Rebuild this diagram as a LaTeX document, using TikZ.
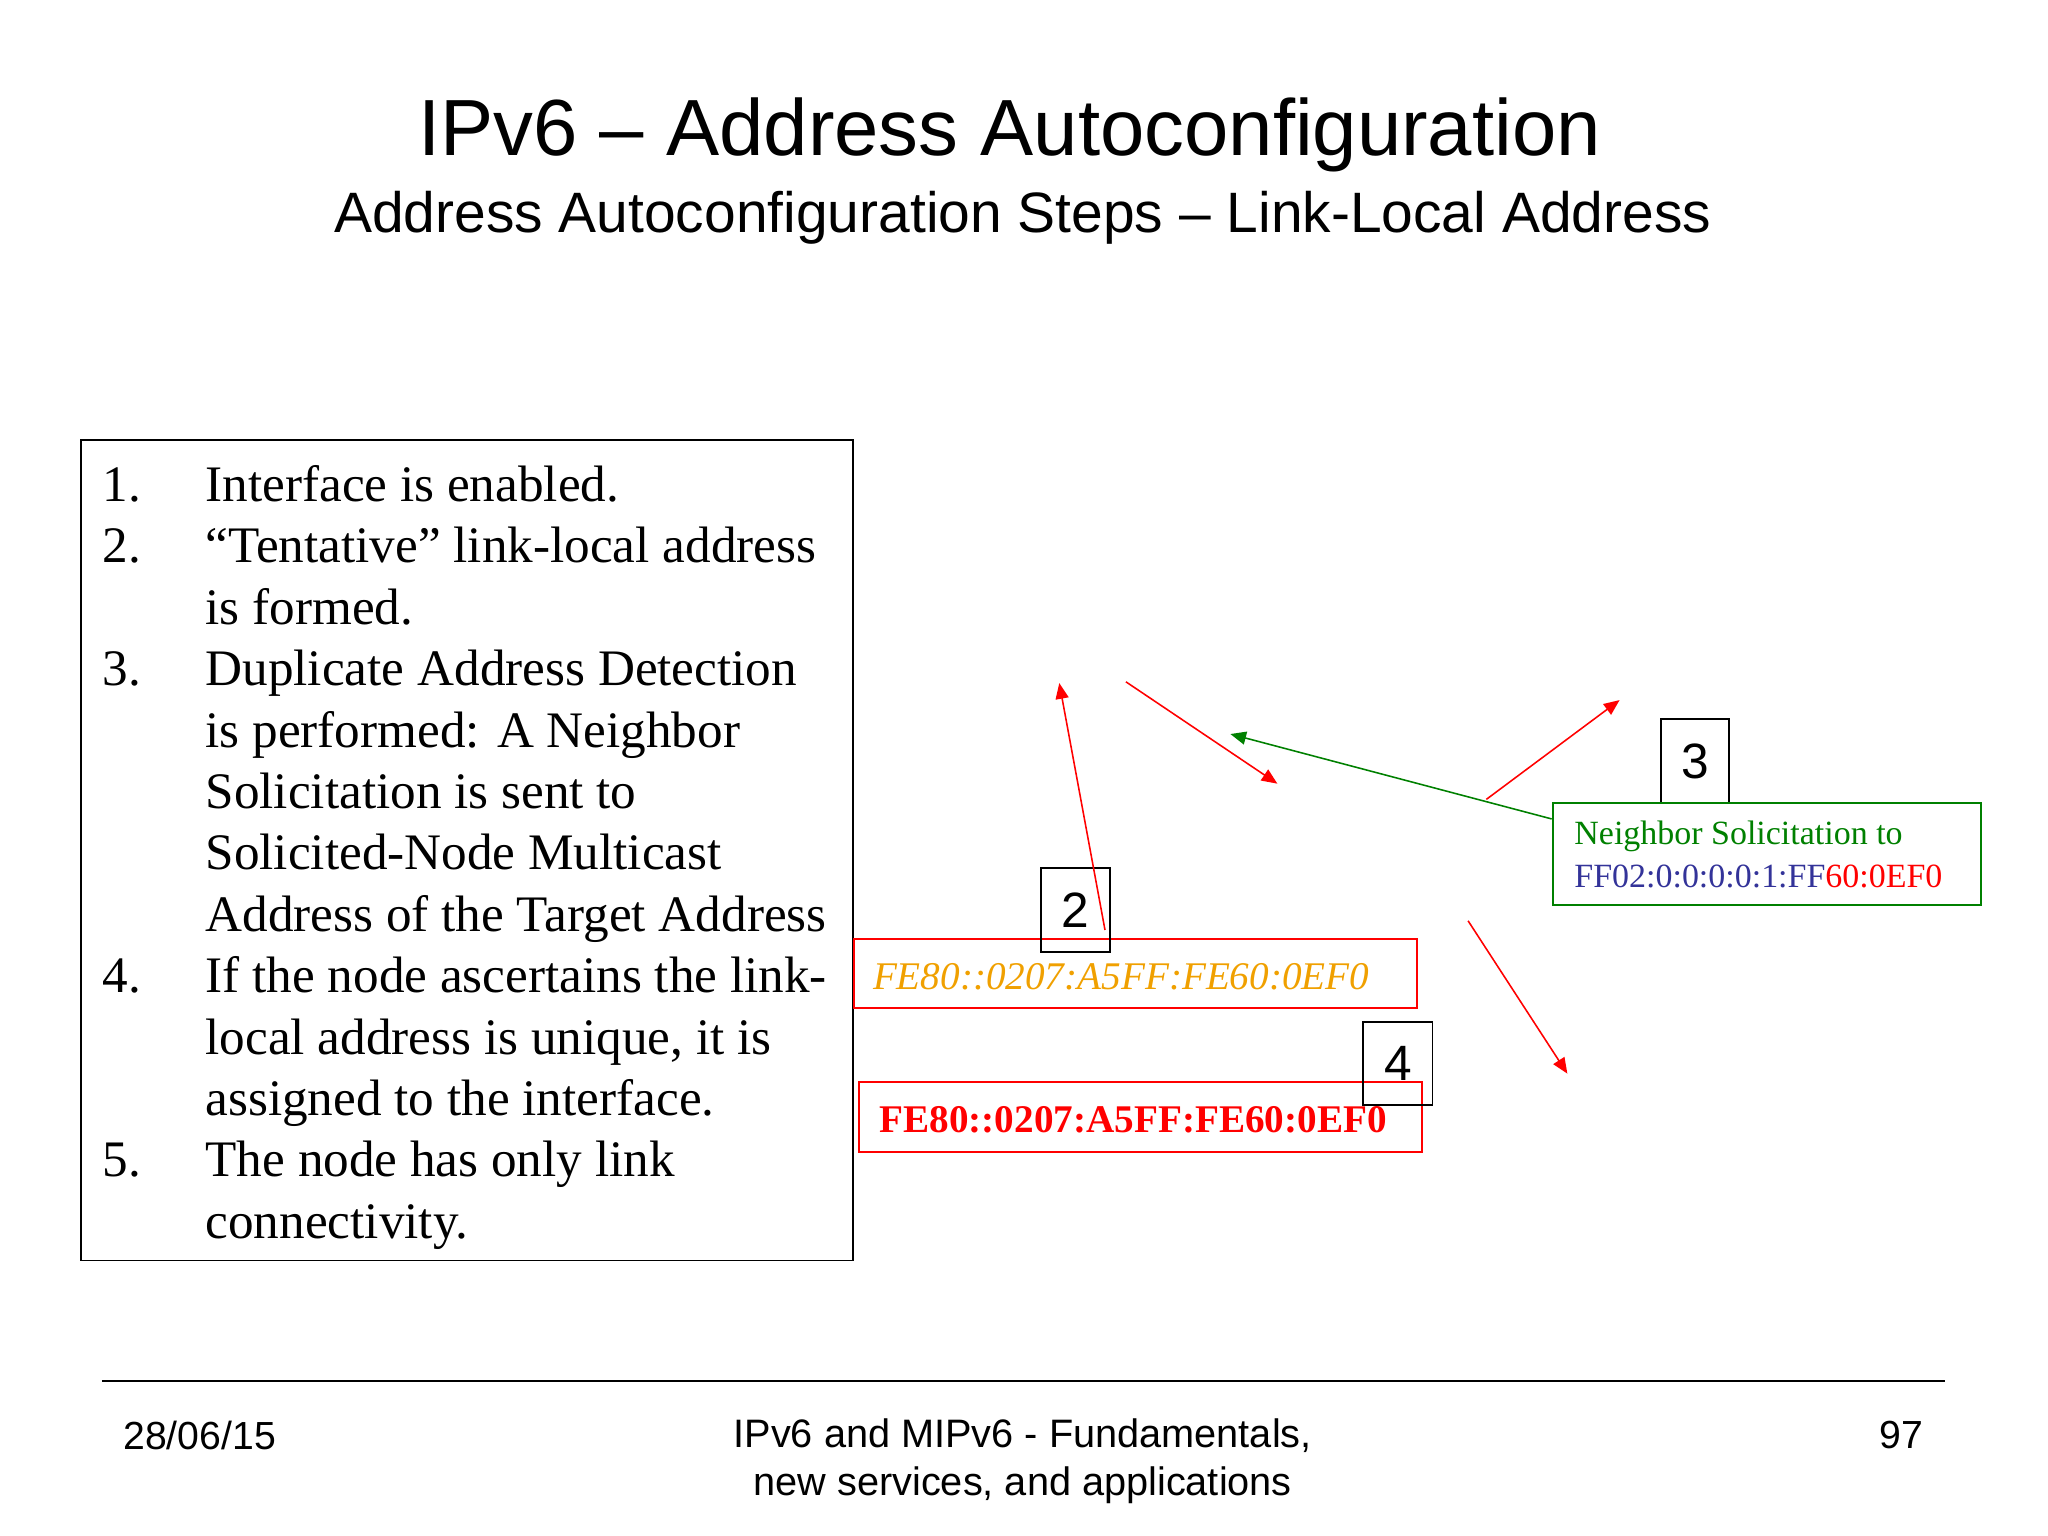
\documentclass[tikz,border=0pt]{standalone}
\usepackage{fontspec}
\setmainfont{Liberation Serif}
\newfontfamily\arial{Liberation Sans}
\usetikzlibrary{arrows.meta}
\definecolor{ngreen}{RGB}{0,128,0}
\definecolor{nblue}{RGB}{51,51,153}
\definecolor{norange}{RGB}{240,160,0}
\begin{document}
\begin{tikzpicture}[x=0.5pt,y=-0.5pt,
  numbox/.style={draw,line width=0.7pt,font=\arial\fontsize{19}{19}\selectfont},
  lst/.style={anchor=base west,font=\fontsize{19.6}{20}\selectfont,inner sep=0},
  rarr/.style={red,line width=0.6pt,-{Triangle[length=6pt,width=5pt]}},
  garr/.style={ngreen,line width=0.6pt,-{Triangle[length=6pt,width=5pt]}}]
\useasboundingbox (0,0) rectangle (1568,1176);
\node[font=\arial\fontsize{30.5}{30}\selectfont] (t) at (773,103) {IPv6 – Address Autoconfiguration};
\node[font=\arial\fontsize{21.8}{22}\selectfont] (st) at (783,167) {Address Autoconfiguration Steps – Link-Local Address};
\draw[line width=0.7pt] (62,337) rectangle (653,965);
\foreach \n/\y in {1./384,2./431,3./525,4./760,5./901}
  \node[lst] (n\y) at (78,\y) {\n};
\foreach \t/\y in {Interface is enabled./384,“Tentative” link-local address/431,is formed./478,Duplicate Address Detection/525,is performed: A Neighbor/572,Solicitation is sent to/619,Solicited-Node Multicast/666,Address of the Target Address/713,If the node ascertains the link-/760,{local address is unique, it is}/807,assigned to the interface./854,The node has only link/901,connectivity./948}
  \node[lst] (l\y) at (157,\y) {\t};
\node[draw=red,line width=0.7pt,minimum width=215.5pt,minimum height=26.5pt,anchor=north west,inner sep=0] (ob) at (653,718) {};
\node[anchor=west,text=norange,font=\itshape\fontsize{15}{15}\selectfont,inner sep=0] (ot) at (668,748) {FE80::0207:A5FF:FE60:0EF0};
\node[draw=red,line width=0.7pt,minimum width=215.5pt,minimum height=26.5pt,anchor=north west,inner sep=0] (rb) at (657,828) {};
\node[anchor=west,text=red,font=\bfseries\fontsize{15}{15}\selectfont,inner sep=0] (rt) at (673,857) {FE80::0207:A5FF:FE60:0EF0};
\node[numbox,minimum width=26.5pt,minimum height=32pt,anchor=north west,inner sep=0] (b2) at (796,664) {2};
\node[numbox,minimum width=26.5pt,minimum height=31.5pt,anchor=north west,inner sep=0] (b4) at (1043,782) {4};
\node[numbox,minimum width=26pt,minimum height=32pt,anchor=north west,inner sep=0] (b3) at (1271,550) {3};
\node[draw=ngreen,line width=0.7pt,minimum width=164pt,minimum height=39pt,anchor=north west,inner sep=0] (gb) at (1188,614) {};
\node[anchor=west,text=ngreen,font=\fontsize{13}{14}\selectfont,inner sep=0] (g1) at (1205,640) {Neighbor Solicitation to};
\node[anchor=west,font=\fontsize{13}{14}\selectfont,inner sep=0] (g2) at (1205,671) {\textcolor{nblue}{FF02:0:0:0:0:1:FF}\textcolor{red}{60:0EF0}};
\coordinate (a1s) at (846,712); \coordinate (a1e) at (811,523);
\coordinate (a2s) at (862,522); \coordinate (a2e) at (978,600);
\coordinate (a3s) at (1138,612); \coordinate (a3e) at (1240,536);
\coordinate (a4s) at (1124,705); \coordinate (a4e) at (1200,822);
\coordinate (a5s) at (1188,627); \coordinate (a5e) at (942,562);
\draw[rarr] (a1s) -- (a1e);
\draw[rarr] (a2s) -- (a2e);
\draw[rarr] (a3s) -- (a3e);
\draw[rarr] (a4s) -- (a4e);
\draw[garr] (a5s) -- (a5e);
\coordinate (fl) at (78,1057); \coordinate (fr) at (1489,1057);
\draw[line width=0.8pt] (fl) -- (fr);
\node[anchor=west,font=\arial\fontsize{15}{15}\selectfont,inner sep=0] (d) at (94,1099) {28/06/15};
\node[align=center,font=\arial\fontsize{15.2}{18.5}\selectfont,inner sep=0] (ft) at (783,1119) {IPv6 and MIPv6 - Fundamentals,\\new services, and applications};
\node[anchor=east,font=\arial\fontsize{15}{15}\selectfont,inner sep=0] (pg) at (1473,1099) {97};
\end{tikzpicture}
\end{document}
